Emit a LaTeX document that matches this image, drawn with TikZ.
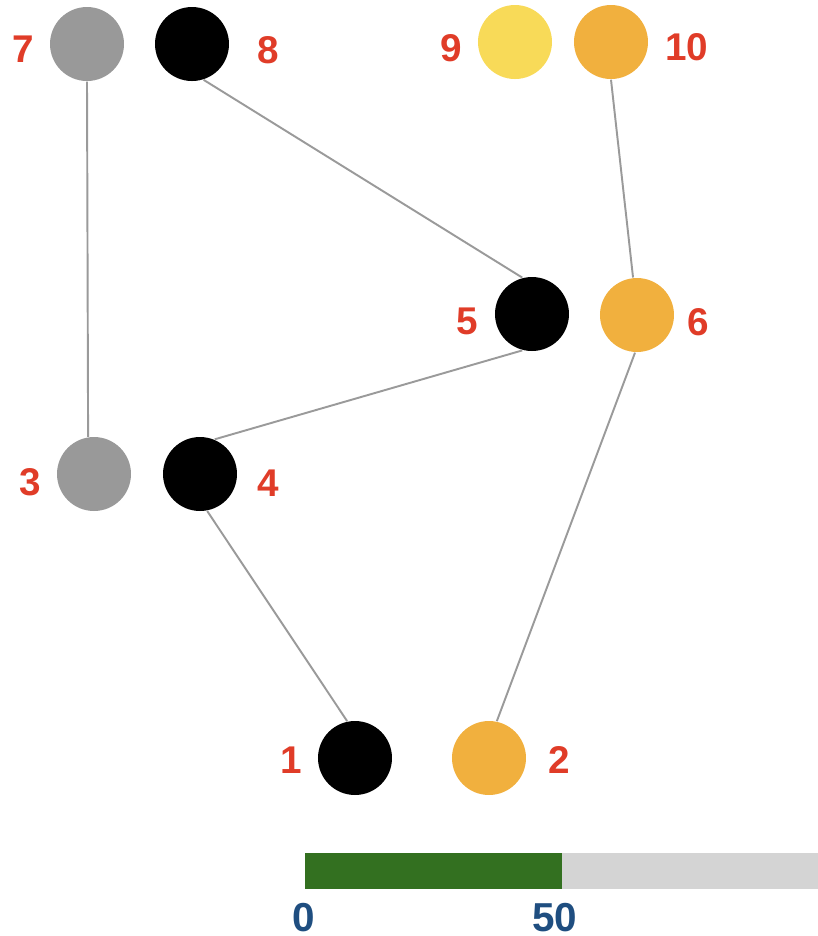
\documentclass[tikz,border=0pt]{standalone}
\usepackage{fontspec}
\setmainfont{Liberation Sans}
\usetikzlibrary{positioning}
\definecolor{nodegray}{HTML}{999999}
\definecolor{nodeyellow}{HTML}{F8DA58}
\definecolor{nodeorange}{HTML}{F1B03E}
\definecolor{labred}{HTML}{E03C28}
\definecolor{linkgray}{HTML}{9A9A9A}
\definecolor{bargreen}{HTML}{337020}
\definecolor{barrest}{HTML}{D4D4D4}
\definecolor{tickblue}{HTML}{1F4E80}

\begin{document}
\begin{tikzpicture}[x=0.1mm,y=-0.1mm,
  vertex/.style={circle,inner sep=0pt,minimum size=7.4mm},
  num/.style={text=labred,font=\fontsize{11}{13}\selectfont\bfseries,inner sep=0pt},
  tick/.style={text=tickblue,font=\fontsize{11.5}{13}\selectfont\bfseries,inner sep=0pt},
  link/.style={draw=linkgray,line width=0.55pt}]
\useasboundingbox (0,0) rectangle (818,936);
% circles
\node[vertex,fill=nodegray] (n7) at (87,44) {};
\node[vertex,fill=black] (n8) at (192,44) {};
\node[vertex,fill=nodeyellow] (n9) at (515,42) {};
\node[vertex,fill=nodeorange] (n10) at (611,42) {};
\node[vertex,fill=black] (n5) at (532,314) {};
\node[vertex,fill=nodeorange] (n6) at (637,315) {};
\node[vertex,fill=nodegray] (n3) at (94,474) {};
\node[vertex,fill=black] (n4) at (200,474) {};
\node[vertex,fill=black] (n1) at (355,758) {};
\node[vertex,fill=nodeorange] (n2) at (489,758) {};
% numbers
\node[num] (l7) at (23,49) {7};
\node[num] (l8) at (268,50) {8};
\node[num] (l9) at (451,48) {9};
\node[num] (l10) at (687,47) {10};
\node[num] (l5) at (467,321) {5};
\node[num] (l6) at (698,322) {6};
\node[num] (l3) at (30,482) {3};
\node[num] (l4) at (268,483) {4};
\node[num] (l1) at (291,760) {1};
\node[num] (l2) at (559,760) {2};
% links
\draw[link] (n7.-90) -- (n3.99);
\draw[link] (n8.-72) -- (n5.105);
\draw[link] (n10.-90) -- (n6.96);
\draw[link] (n5.-105) -- (n4.67);
\draw[link] (n6.-93) -- (n2.78);
\draw[link] (n4.-79) -- (n1.102);
% bar
\coordinate (b0) at (305,853);
\coordinate (bmid) at (562,889);
\coordinate (bend) at (818,853);
\fill[barrest] (bmid) rectangle (bend);
\fill[bargreen] (b0) rectangle (bmid);
\node[tick] (t0) at (304,918) {0};
\node[tick] (t50) at (555,918) {50};
\end{tikzpicture}
\end{document}
